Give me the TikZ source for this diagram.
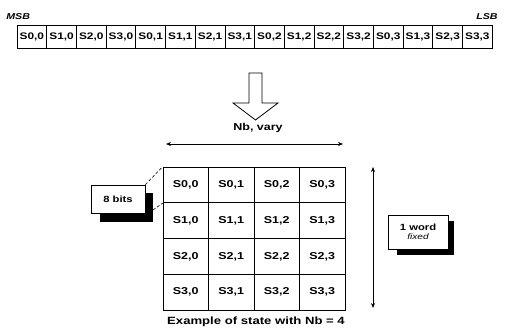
\documentclass[tikz,border=0pt]{standalone}
\usepackage{fontspec}
\setmainfont{Liberation Sans}
\newfontfamily\wide[FakeStretch=1.25]{Liberation Sans}
\usetikzlibrary{arrows.meta}
\begin{document}
\begin{tikzpicture}[x=1pt,y=-1pt,
  line width=0.7pt,
  cellA/.style={draw,minimum width=29.7pt,minimum height=23pt,inner sep=0pt,
    font=\wide\fontsize{9.5}{11}\selectfont\bfseries},
  cellB/.style={draw,minimum width=45.5pt,minimum height=35.75pt,inner sep=0pt,
    font=\wide\fontsize{10}{12}\selectfont\bfseries},
  lbl/.style={inner sep=0pt,font=\wide\fontsize{10}{12}\selectfont\bfseries},
  shadowbox/.style={draw,fill=white,inner sep=0pt,align=center},
  dbl/.style={{Stealth[length=5pt,width=4pt]}-{Stealth[length=5pt,width=4pt]},line width=0.7pt}
]
\useasboundingbox (0,0) rectangle (505,329);
% top row
\foreach \i in {0,...,15}{
  \pgfmathtruncatemacro{\rr}{mod(\i,4)}
  \pgfmathtruncatemacro{\cc}{floor(\i/4)}
  \pgfmathsetmacro{\xx}{17+29.7*\i+14.85}
  \node[cellA] (t\i) at (\xx,36.5) {S\rr,\cc};
}
\node[lbl,font=\wide\fontsize{8.5}{10}\selectfont\bfseries\itshape,anchor=south west] (msb) at (6,20) {MSB};
\node[lbl,font=\wide\fontsize{8.5}{10}\selectfont\bfseries\itshape,anchor=south east] (lsb) at (498,20) {LSB};
% hollow arrow
\draw[line width=0.8pt,fill=white] (249,73) -- (262,73) -- (262,103) -- (278,103) -- (255.5,120) -- (233,103) -- (249,103) -- cycle;
% Nb vary
\node[lbl] (nb) at (258,128) {Nb, vary};
\coordinate (hl) at (166,144);
\coordinate (hr) at (343,144);
\draw[dbl] (hl) -- (hr);
% grid
\foreach \r in {0,...,3}{
  \foreach \c in {0,...,3}{
    \pgfmathsetmacro{\xx}{163+45.5*\c+22.75}
    \pgfmathsetmacro{\yy}{167+35.75*\r+17.875}
    \node[cellB] (g\r\c) at (\xx,\yy) {S\r,\c};
  }
}
% vertical arrow
\coordinate (vt) at (373,167);
\coordinate (vb) at (373,308);
\draw[dbl] (vt) -- (vb);
% 8 bits box
\fill (100,193) rectangle (153,222);
\node[shadowbox,minimum width=54pt,minimum height=28pt,font=\wide\fontsize{9}{10}\selectfont\bfseries] (eb) at (118,199) {8 bits};
\draw[line width=0.6pt,dash pattern=on 3pt off 2pt] (eb.north east) -- (g00.north west);
\draw[line width=0.6pt,dash pattern=on 3pt off 2pt] (153,210) -- (g00.south west);
% 1 word box
\fill (397,221) rectangle (454,255);
\node[shadowbox,minimum width=60pt,minimum height=34pt,font=\wide\fontsize{9}{10}\selectfont\bfseries] (wb) at (418,232) {1 word\\[-1pt]{\itshape\mdseries\fontsize{8}{9}\selectfont fixed}};
% caption
\node[lbl,font=\wide\fontsize{10.5}{12}\selectfont\bfseries] (cap) at (256,322) {Example of state with Nb = 4};
\end{tikzpicture}
\end{document}
